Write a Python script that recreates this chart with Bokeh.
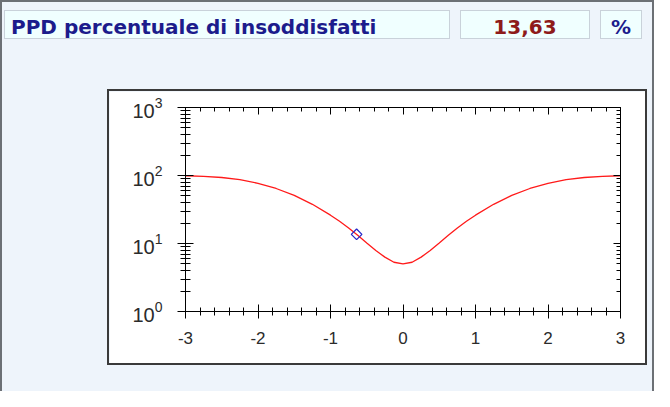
from bokeh.plotting import figure
from bokeh.models import (Range1d, LinearAxis, LogAxis, SingleIntervalTicker, FixedTicker,
                          Div, CustomJSTickFormatter)
from bokeh.layouts import column, row
from bokeh.embed import file_html
from bokeh.resources import INLINE

# ---- data ----
title_text = "PPD percentuale di insoddisfatti"
value_text = "13,63"
unit_text = "%"

pmv = [-3.0, -2.75, -2.5, -2.25, -2.0, -1.75, -1.5, -1.25, -1.0, -0.875, -0.75, -0.625,
       -0.5, -0.375, -0.25, -0.125, 0.0, 0.125, 0.25, 0.375, 0.5, 0.625, 0.75, 0.875,
       1.0, 1.25, 1.5, 1.75, 2.0, 2.25, 2.5, 2.75, 3.0]
ppd = [99.1, 97.3, 93.4, 86.7, 76.8, 64.4, 50.9, 37.7, 26.1, 21.2, 16.9, 13.2,
       10.2, 7.9, 6.3, 5.3, 5.0, 5.3, 6.3, 7.9, 10.2, 13.2, 16.9, 21.2,
       26.1, 37.7, 50.9, 64.4, 76.8, 86.7, 93.4, 97.3, 99.1]

point_pmv = [-0.64]
point_ppd = [13.63]

y_major = [1, 10, 100, 1000]
y_minor = [m * d for d in (1, 10, 100) for m in range(2, 10)]

# ---- figure ----
p = figure(width=540, height=276, x_range=Range1d(-3, 3), y_range=Range1d(1, 1000),
           y_axis_type="log", output_backend="svg", toolbar_location=None,
           min_border_left=76, min_border_right=29, min_border_top=16, min_border_bottom=56,
           background_fill_color="white", border_fill_color="white",
           outline_line_color=None,
           margin=(50, 0, 0, 105),
           styles={"border": "2px solid #3a3a3a"})
p.grid.visible = False

lab_font = "Liberation Sans"
lab_color = "#2b2b2b"

xa = p.xaxis[0]
xa.ticker = SingleIntervalTicker(interval=1, num_minor_ticks=5)
xa.formatter = CustomJSTickFormatter(code="return tick.toFixed(0);")
xa.major_tick_in = 7
xa.major_tick_out = 7
xa.minor_tick_in = 4
xa.minor_tick_out = 4
xa.major_label_standoff = 13
xa.major_label_text_font = lab_font
xa.major_label_text_font_size = "17px"
xa.major_label_text_color = lab_color
xa.axis_line_color = "black"
xa.major_tick_line_color = "black"
xa.minor_tick_line_color = "black"

ya = p.yaxis[0]
ya.ticker = FixedTicker(ticks=y_major, minor_ticks=y_minor)
ya.major_tick_in = 8
ya.major_tick_out = 8
ya.minor_tick_in = 5
ya.minor_tick_out = 5
ya.major_label_standoff = 15
ya.major_label_text_font = lab_font
ya.major_label_text_font_size = "20px"
ya.major_label_text_color = lab_color
ya.axis_line_color = "black"
ya.major_tick_line_color = "black"
ya.minor_tick_line_color = "black"

top = LinearAxis(ticker=SingleIntervalTicker(interval=1, num_minor_ticks=5),
                 major_tick_in=7, major_tick_out=0, minor_tick_in=4, minor_tick_out=0,
                 major_label_text_color=None, axis_line_color="black")
p.add_layout(top, "above")
right = LogAxis(ticker=FixedTicker(ticks=y_major, minor_ticks=y_minor),
                major_tick_in=7, major_tick_out=0, minor_tick_in=4, minor_tick_out=0,
                major_label_text_color=None, axis_line_color="black")
p.add_layout(right, "right")

p.line(pmv, ppd, line_color="#ff1a1a", line_width=1.3)
p.scatter(point_pmv, point_ppd, marker="square", angle=0.785398, size=7.5,
          fill_color=None, line_color="#2a2ac8", line_width=1.3)

# ---- header boxes ----
base_style = {
    "background-color": "#f0ffff",
    "border": "1px solid #c9d2da",
    "box-sizing": "border-box",
    "font-family": "DejaVu Sans, sans-serif",
    "font-weight": "bold",
    "font-size": "20px",
    "line-height": "33px",
    "white-space": "nowrap",
    "overflow": "hidden",
}
d1 = Div(text=title_text, width=446, height=29, margin=0,
         styles={**base_style, "color": "#1c1c8c", "padding-left": "6px"})
d2 = Div(text=value_text, width=130, height=29, margin=0,
         styles={**base_style, "color": "#8e1b1b", "text-align": "center"})
d3 = Div(text=unit_text, width=42, height=29, margin=0,
         styles={**base_style, "color": "#1c1c8c", "text-align": "center"})

hrow = row(d1, d2, d3, spacing=10, margin=(8, 0, 0, 2))

root = column(hrow, p, width=654, height=391,
              styles={"background-color": "#eef4fb",
                      "border-left": "2px solid #6c7075",
                      "border-top": "2px solid #6c7075",
                      "border-right": "2px solid #6c7075",
                      "box-sizing": "border-box"})

open("out.html", "w").write(file_html(root, INLINE))
